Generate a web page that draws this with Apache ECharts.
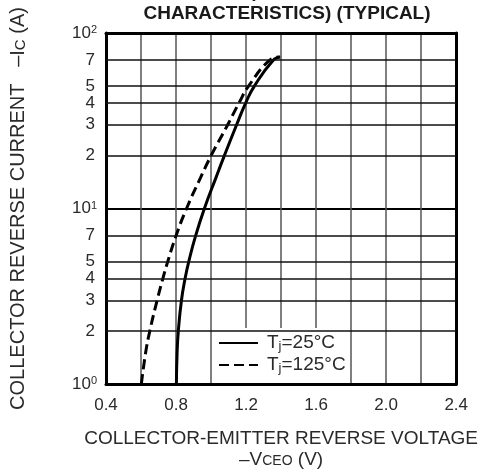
<!DOCTYPE html>
<html>
<head>
<meta charset="utf-8">
<script src="https://cdn.jsdelivr.net/npm/echarts@6/dist/echarts.min.js"></script>
<style>
html,body{margin:0;padding:0;background:#fff;}
#chart{width:480px;height:475px;}
</style>
</head>
<body>
<div id="chart"></div>
<script>
// ---- data ----
const xTickLabels = ['0.4', '0.8', '1.2', '1.6', '2.0', '2.4'];
const yDecadeTicks = [1, 10, 100];
const yMinorTicks = [2, 3, 4, 5, 7, 20, 30, 40, 50, 70];

const seriesNames = ['Tj=25°C', 'Tj=125°C'];
const current25 = [1, 1.5, 2, 3, 4, 5, 7, 10, 15, 20, 30, 40, 50, 70, 73];
const voltage25 = [0.802, 0.806, 0.813, 0.831, 0.852, 0.873, 0.912, 0.962, 1.028, 1.076, 1.146, 1.198, 1.248, 1.355, 1.395];
const current125 = [1, 1.5, 2, 3, 4, 5, 7, 10, 15, 20, 30, 40, 50, 70, 73];
const voltage125 = [0.602, 0.626, 0.65, 0.692, 0.725, 0.753, 0.80, 0.86, 0.94, 1.0, 1.095, 1.16, 1.215, 1.335, 1.39];

const FONT = "'Liberation Sans', Arial, Helvetica, sans-serif";
const TXT = '#2a2a2a';

const pairs = (xs, ys) => xs.map((x, i) => [x, ys[i]]);

const chart = echarts.init(document.getElementById('chart'));
chart.setOption({
  animation: false,
  backgroundColor: '#fff',
  title: {
    text: 'VOLTAGE (DIODE FORWARD\nCHARACTERISTICS) (TYPICAL)',
    left: 282, textAlign: 'center',
    top: -24,
    textStyle: {
      fontFamily: "'Liberation Sans Narrow', 'Liberation Sans', Arial, sans-serif",
      fontWeight: 'bold', fontSize: 19, lineHeight: 22, color: '#1a1a1a'
    }
  },
  grid: { left: 104, top: 33, right: 19, bottom: 91 },
  legend: {
    left: 213, top: 328,
    orient: 'vertical',
    backgroundColor: '#fff',
    padding: [5, 2, 8, 5],
    itemWidth: 39, itemHeight: 14, itemGap: 2,
    itemStyle: { opacity: 0 },
    data: seriesNames,
    formatter: n => 'T{sub|j}' + n.slice(2),
    textStyle: {
      fontFamily: FONT, fontSize: 19, lineHeight: 20, color: TXT,
      padding: [0, 0, 0, 4],
      rich: {
        sub: { fontFamily: FONT, fontSize: 13, lineHeight: 13, verticalAlign: 'bottom', color: TXT }
      }
    }
  },
  xAxis: [{
    type: 'value', min: 0.4, max: 2.4, interval: 0.2,
    axisLine: { show: true, onZero: false, lineStyle: { color: '#000', width: 3 } },
    axisTick: { show: false },
    axisLabel: {
      margin: 13, fontFamily: FONT, fontSize: 17, color: TXT,
      formatter: v => { const s = v.toFixed(1); return xTickLabels.includes(s) ? s : ''; }
    },
    splitLine: { show: true, showMinLine: false, showMaxLine: false, lineStyle: { color: '#555', width: 1.5 } },
    name: 'COLLECTOR-EMITTER REVERSE VOLTAGE\n–V{s|CEO} (V)',
    nameLocation: 'middle', nameGap: 44,
    nameTextStyle: {
      fontFamily: FONT, fontSize: 19, lineHeight: 21, color: TXT,
      rich: { s: { fontFamily: FONT, fontSize: 14, lineHeight: 14, verticalAlign: 'bottom', color: TXT, padding: [0, 0, 2, 0] } }
    }
  }, {
    type: 'value', min: 0.4, max: 2.4, position: 'top',
    axisLine: { show: true, lineStyle: { color: '#000', width: 3 } },
    axisTick: { show: false }, axisLabel: { show: false }, splitLine: { show: false }
  }],
  yAxis: [{
    type: 'log', logBase: 10, min: 1, max: 100,
    axisLine: { show: true, onZero: false, lineStyle: { color: '#000', width: 3 } },
    axisTick: { show: false },
    axisLabel: {
      margin: 9, fontFamily: FONT, fontSize: 17, lineHeight: 17, color: TXT,
      formatter: v => yDecadeTicks.includes(Math.round(v)) ? '10{sup|' + Math.round(Math.log10(v)) + '}' : '',
      rich: { sup: { fontFamily: FONT, fontSize: 11, lineHeight: 11, verticalAlign: 'top', color: TXT } }
    },
    splitLine: { show: true, showMinLine: false, showMaxLine: false, lineStyle: { color: '#000', width: 2 } },
    name: 'COLLECTOR REVERSE CURRENT   –I{s|C} (A)',
    nameLocation: 'middle', nameGap: 78,
    nameTextStyle: {
      fontFamily: FONT, fontSize: 20, lineHeight: 20, color: TXT,
      rich: { s: { fontFamily: FONT, fontSize: 15, lineHeight: 15, verticalAlign: 'bottom', color: TXT } }
    }
  }, {
    type: 'log', logBase: 10, min: 1, max: 100, position: 'right',
    axisLine: { show: true, lineStyle: { color: '#000', width: 3 } },
    axisTick: { show: false }, axisLabel: { show: false }, splitLine: { show: false }
  }],
  series: [{
    name: seriesNames[0], type: 'line',
    data: pairs(voltage25, current25),
    smooth: 0.5, symbol: 'none', showSymbol: false,
    lineStyle: { color: '#000', width: 3 },
    itemStyle: { color: '#000' },
    markLine: {
      silent: true, symbol: 'none', animation: false,
      lineStyle: { type: 'solid', color: '#111', width: 1.5 },
      label: {
        position: 'start', distance: 11, fontFamily: FONT, fontSize: 17, color: TXT,
        formatter: p => String(p.value % 10 === 0 ? p.value / 10 : p.value)
      },
      emphasis: { disabled: true },
      data: yMinorTicks.map(v => ({ yAxis: v }))
    }
  }, {
    name: seriesNames[1], type: 'line',
    data: pairs(voltage125, current125),
    smooth: 0.5, symbol: 'none', showSymbol: false,
    lineStyle: { color: '#000', width: 3, type: [10, 5] },
    itemStyle: { color: '#000' }
  }]
});
</script>
</body>
</html>
